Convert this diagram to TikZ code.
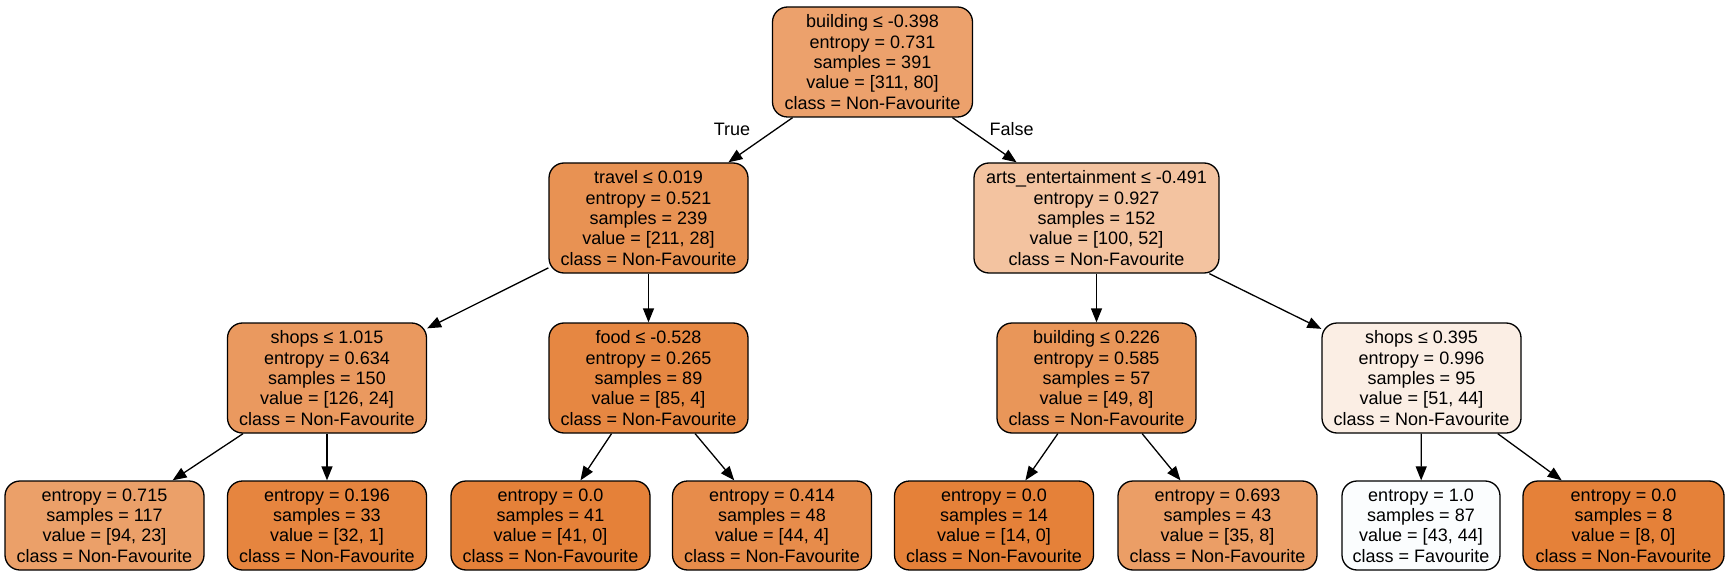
\documentclass[tikz,border=0pt]{standalone}
\usepackage{fontspec}
\setmainfont{Liberation Sans}
\usetikzlibrary{arrows.meta}
\definecolor{cRoot}{RGB}{236,161,108}
\definecolor{cTravel}{RGB}{232,146,83}
\definecolor{cArts}{RGB}{243,195,160}
\definecolor{cShopsA}{RGB}{234,153,95}
\definecolor{cFood}{RGB}{230,135,66}
\definecolor{cBuildB}{RGB}{233,150,89}
\definecolor{cShopsB}{RGB}{251,238,228}
\definecolor{cLa}{RGB}{235,160,105}
\definecolor{cLb}{RGB}{230,133,63}
\definecolor{cLc}{RGB}{229,129,57}
\definecolor{cLd}{RGB}{231,140,75}
\definecolor{cLf}{RGB}{235,158,102}
\definecolor{cLg}{RGB}{251,253,254}
\tikzset{
  tree/.style={draw=black, line width=1.3pt, rounded corners=15pt, inner sep=0pt,
    align=center, font=\fontsize{18pt}{20.3pt}\selectfont, minimum width=199pt},
  inner/.style={tree, minimum height=110pt},
  leaf/.style={tree, minimum height=89pt},
  edge/.style={line width=1.3pt, -{Triangle[length=14pt,width=11pt]}},
  elabel/.style={font=\fontsize{18pt}{20pt}\selectfont, inner sep=0pt}
}
\begin{document}
\begin{tikzpicture}[x=1pt,y=-1pt]
\useasboundingbox (0,0) rectangle (1728,577);
\node[inner, fill=cRoot, minimum width=200pt] (root) at (872.5,62) {building ≤ -0.398\\entropy = 0.731\\samples = 391\\value = [311, 80]\\class = Non-Favourite};
\node[inner, fill=cTravel] (travel) at (648.5,218) {travel ≤ 0.019\\entropy = 0.521\\samples = 239\\value = [211, 28]\\class = Non-Favourite};
\node[inner, fill=cArts, minimum width=245pt] (arts) at (1096.5,218) {arts\_entertainment ≤ -0.491\\entropy = 0.927\\samples = 152\\value = [100, 52]\\class = Non-Favourite};
\node[inner, fill=cShopsA] (shopsA) at (327,378) {shops ≤ 1.015\\entropy = 0.634\\samples = 150\\value = [126, 24]\\class = Non-Favourite};
\node[inner, fill=cFood] (food) at (648.5,378) {food ≤ -0.528\\entropy = 0.265\\samples = 89\\value = [85, 4]\\class = Non-Favourite};
\node[inner, fill=cBuildB] (buildB) at (1096.5,378) {building ≤ 0.226\\entropy = 0.585\\samples = 57\\value = [49, 8]\\class = Non-Favourite};
\node[inner, fill=cShopsB] (shopsB) at (1421.5,378) {shops ≤ 0.395\\entropy = 0.996\\samples = 95\\value = [51, 44]\\class = Non-Favourite};
\node[leaf, fill=cLa] (l1) at (104.5,525.5) {entropy = 0.715\\samples = 117\\value = [94, 23]\\class = Non-Favourite};
\node[leaf, fill=cLb] (l2) at (327,525.5) {entropy = 0.196\\samples = 33\\value = [32, 1]\\class = Non-Favourite};
\node[leaf, fill=cLc] (l3) at (550.5,525.5) {entropy = 0.0\\samples = 41\\value = [41, 0]\\class = Non-Favourite};
\node[leaf, fill=cLd] (l4) at (772,525.5) {entropy = 0.414\\samples = 48\\value = [44, 4]\\class = Non-Favourite};
\node[leaf, fill=cLc] (l5) at (994,525.5) {entropy = 0.0\\samples = 14\\value = [14, 0]\\class = Non-Favourite};
\node[leaf, fill=cLf] (l6) at (1217.5,525.5) {entropy = 0.693\\samples = 43\\value = [35, 8]\\class = Non-Favourite};
\node[leaf, fill=cLg, minimum width=158pt] (l7) at (1421,525.5) {entropy = 1.0\\samples = 87\\value = [43, 44]\\class = Favourite};
\node[leaf, fill=cLc, minimum width=201pt] (l8) at (1623.5,525.5) {entropy = 0.0\\samples = 8\\value = [8, 0]\\class = Non-Favourite};
\draw[edge] (root) -- (travel);
\draw[edge] (root) -- (arts);
\draw[edge] (travel) -- (shopsA);
\draw[edge] (travel) -- (food);
\draw[edge] (arts) -- (buildB);
\draw[edge] (arts) -- (shopsB);
\draw[edge] (shopsA) -- (l1);
\draw[edge] (shopsA) -- (l2);
\draw[edge] (food) -- (l3);
\draw[edge] (food) -- (l4);
\draw[edge] (buildB) -- (l5);
\draw[edge] (buildB) -- (l6);
\draw[edge] (shopsB) -- (l7);
\draw[edge] (shopsB) -- (l8);
\node[elabel] (tlab) at (732,129) {True};
\node[elabel] (flab) at (1011.5,129) {False};
\end{tikzpicture}
\end{document}
